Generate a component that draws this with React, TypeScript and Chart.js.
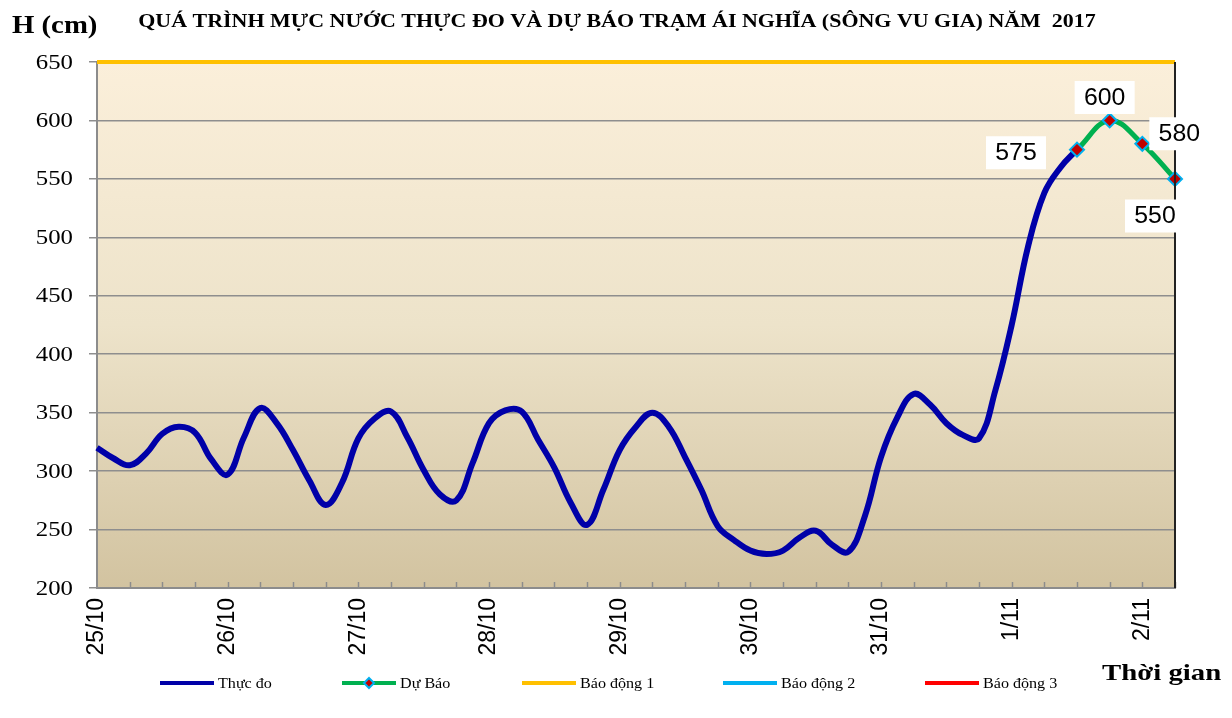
import React, { useEffect, useRef } from "react";
import { Chart, registerables } from "chart.js";

Chart.register(...registerables);

// 3-hourly time steps from 25/10 00h to 2/11 06h
const DAYS = ["25/10", "26/10", "27/10", "28/10", "29/10", "30/10", "31/10", "1/11", "2/11"];
const STEPS_PER_DAY = 8;
const TOTAL_STEPS = 67;

const categories: string[] = Array.from({ length: TOTAL_STEPS }, (_, i) =>
  i % STEPS_PER_DAY === 0 ? DAYS[i / STEPS_PER_DAY] : ""
);

// Thực đo (observed), 3-hourly
const observed: (number | null)[] = [
  320, 311, 305, 315, 332, 338, 333, 310,
  297, 329, 354, 341, 318, 292, 271, 290,
  328, 345, 351, 329, 301, 280, 275, 307,
  341, 352, 351, 327, 303, 273, 254, 284,
  318, 338, 350, 338, 312, 284, 253, 241,
  232, 229, 232, 243, 249, 237, 231, 261,
  312, 346, 366, 357, 341, 331, 328, 369,
  425, 492, 538, 560, 575,
  null, null, null, null, null, null,
];

// Dự báo (forecast), every 6 hours
const forecast: (number | null)[] = [
  ...Array(60).fill(null),
  575, null, 600, null, 580, null, 550,
];

const ALARM1 = 650;
const ALARM2 = 800;
const ALARM3 = 900;

const Y_MIN = 200;
const Y_MAX = 650;
const Y_STEP = 50;

const TITLE = "QUÁ TRÌNH MỰC NƯỚC THỰC ĐO VÀ DỰ BÁO TRẠM ÁI NGHĨA (SÔNG VU GIA) NĂM  2017";
const Y_TITLE = "H (cm)";
const X_TITLE = "Thời gian";

const LEGEND = [
  { text: "Thực đo", color: "#0000A8", marker: false, x: 160 },
  { text: "Dự Báo", color: "#00B050", marker: true, x: 342 },
  { text: "Báo động 1", color: "#FFC000", marker: false, x: 522 },
  { text: "Báo động 2", color: "#00B0F0", marker: false, x: 723 },
  { text: "Báo động 3", color: "#FF0000", marker: false, x: 925 },
];

// label offsets for forecast values (dx, dy from point)
const LABEL_OFFSETS: Record<number, [number, number]> = {
  60: [-61, 3],
  62: [-5, -23],
  64: [37, -10],
  66: [-20, 37],
};

const SERIF = '"Liberation Serif", "Times New Roman", serif';
const SANS = '"Liberation Sans", Arial, sans-serif';

function stretchText(ctx: any, text: string, x: number, y: number, sx: number, align: string) {
  ctx.save();
  ctx.translate(x, y);
  ctx.scale(sx, 1);
  ctx.textAlign = align;
  ctx.fillText(text, 0, 0);
  ctx.restore();
}

const decorPlugin = {
  id: "decor",
  beforeDraw(chart: any) {
    const { ctx, chartArea } = chart;
    const { left, right, top, bottom } = chartArea;
    ctx.save();
    ctx.fillStyle = "#ffffff";
    ctx.fillRect(0, 0, chart.width, chart.height);
    const g = ctx.createLinearGradient(0, top, 0, bottom);
    g.addColorStop(0, "#FBEFDA");
    g.addColorStop(0.5, "#EDE3CA");
    g.addColorStop(1, "#D2C3A0");
    ctx.fillStyle = g;
    ctx.fillRect(left, top, right - left, bottom - top);
    ctx.restore();
  },
  afterDraw(chart: any) {
    const { ctx, chartArea } = chart;
    const { right, top, bottom } = chartArea;
    const xs = chart.scales.x;
    const ys = chart.scales.y;
    ctx.save();
    // inner ticks on x axis every 6 hours
    ctx.strokeStyle = "#8c8c8c";
    ctx.lineWidth = 1.5;
    for (let i = 2; i < TOTAL_STEPS; i += 2) {
      const px = Math.round(xs.getPixelForValue(i)) + 0.5;
      ctx.beginPath();
      ctx.moveTo(px, bottom);
      ctx.lineTo(px, bottom - 6);
      ctx.stroke();
    }
    // right border
    ctx.strokeStyle = "#222222";
    ctx.lineWidth = 2;
    ctx.beginPath();
    ctx.moveTo(right, top);
    ctx.lineTo(right, bottom);
    ctx.stroke();

    // y tick labels (slightly wide serif)
    ctx.fillStyle = "#000";
    ctx.font = `21px ${SERIF}`;
    ctx.textBaseline = "middle";
    ys.ticks.forEach((t: any) => {
      stretchText(ctx, String(t.value), 73, ys.getPixelForValue(t.value) + 1, 1.18, "right");
    });

    // titles
    ctx.textBaseline = "alphabetic";
    ctx.font = `bold 18px ${SERIF}`;
    stretchText(ctx, TITLE, 617, 27, 1.22, "center");
    ctx.font = `bold 25px ${SERIF}`;
    stretchText(ctx, Y_TITLE, 12, 33, 1.15, "left");
    ctx.font = `bold 24px ${SERIF}`;
    stretchText(ctx, X_TITLE, 1102, 680, 1.2, "left");

    // legend
    const ly = 683;
    ctx.font = `14px ${SERIF}`;
    ctx.textBaseline = "middle";
    LEGEND.forEach((it) => {
      ctx.strokeStyle = it.color;
      ctx.lineWidth = 4;
      ctx.beginPath();
      ctx.moveTo(it.x, ly);
      ctx.lineTo(it.x + 54, ly);
      ctx.stroke();
      if (it.marker) {
        const mx = it.x + 27;
        ctx.fillStyle = "#C00000";
        ctx.strokeStyle = "#00B0F0";
        ctx.lineWidth = 2;
        ctx.beginPath();
        ctx.moveTo(mx, ly - 5);
        ctx.lineTo(mx + 5, ly);
        ctx.lineTo(mx, ly + 5);
        ctx.lineTo(mx - 5, ly);
        ctx.closePath();
        ctx.fill();
        ctx.stroke();
      }
      ctx.fillStyle = "#000";
      stretchText(ctx, it.text, it.x + 58, ly + 1, 1.15, "left");
    });
    ctx.restore();

    // forecast value labels in white boxes
    const meta = chart.getDatasetMeta(1);
    const boxes: { cx: number; cy: number; txt: string }[] = [];
    meta.data.forEach((pt: any, i: number) => {
      const v = forecast[i];
      if (v == null || pt == null) return;
      const off = LABEL_OFFSETS[i] || [0, -25];
      boxes.push({ cx: pt.x + off[0], cy: pt.y + off[1], txt: String(v) });
    });
    ctx.save();
    ctx.font = `23px ${SANS}`;
    boxes.forEach((b) => {
      const w = 60;
      const h = 33;
      ctx.fillStyle = "#ffffff";
      ctx.beginPath();
      ctx.rect(b.cx - w / 2, b.cy - h / 2, w, h);
      ctx.fill();
    });
    ctx.fillStyle = "#000000";
    ctx.textBaseline = "middle";
    boxes.forEach((b) => {
      stretchText(ctx, b.txt, b.cx, b.cy + 1, 1.08, "center");
    });
    ctx.restore();
  },
};

export default function App() {
  const ref = useRef<HTMLCanvasElement | null>(null);
  useEffect(() => {
    if (!ref.current) return;
    const chart = new Chart(ref.current, {
      type: "line",
      data: {
        labels: categories,
        datasets: [
          {
            label: "Thực đo",
            data: observed,
            borderColor: "#0000A8",
            borderWidth: 6,
            pointRadius: 0,
            tension: 0.4,
            order: 2,
          },
          {
            label: "Dự Báo",
            data: forecast,
            borderColor: "#00B050",
            borderWidth: 5,
            spanGaps: true,
            tension: 0.4,
            pointStyle: "rectRot",
            pointRadius: 7,
            pointBackgroundColor: "#C00000",
            pointBorderColor: "#00B0F0",
            pointBorderWidth: 2,
            order: 1,
          },
          {
            label: "Báo động 1",
            data: categories.map(() => ALARM1),
            borderColor: "#FFC000",
            borderWidth: 4,
            pointRadius: 0,
            clip: false,
            order: 3,
          },
          {
            label: "Báo động 2",
            data: categories.map(() => ALARM2),
            borderColor: "#00B0F0",
            borderWidth: 4,
            pointRadius: 0,
            order: 4,
          },
          {
            label: "Báo động 3",
            data: categories.map(() => ALARM3),
            borderColor: "#FF0000",
            borderWidth: 4,
            pointRadius: 0,
            order: 5,
          },
        ],
      },
      options: {
        responsive: false,
        animation: false,
        layout: { padding: { top: 62, right: 57, left: 0, bottom: 0 } },
        plugins: {
          legend: { display: false },
          title: { display: false },
          tooltip: { enabled: false },
        },
        scales: {
          x: {
            type: "category",
            offset: false,
            afterFit: (s: any) => {
              s.height = 130;
            },
            grid: { display: true, drawOnChartArea: false, drawTicks: false, color: "rgba(0,0,0,0)" },
            border: { display: true, color: "#8c8c8c", width: 2 },
            ticks: {
              autoSkip: false,
              minRotation: 90,
              maxRotation: 90,
              padding: 10,
              color: "#000",
              font: { family: SANS, size: 23 },
            },
          },
          y: {
            min: Y_MIN,
            max: Y_MAX,
            afterFit: (s: any) => {
              s.width = 97;
            },
            grid: { color: "#8e8e8e", lineWidth: 1.5, tickLength: 8 },
            border: { display: true, color: "#8c8c8c", width: 2 },
            ticks: {
              stepSize: Y_STEP,
              padding: 16,
              color: "rgba(0,0,0,0)",
              font: { family: SERIF, size: 21 },
            },
          },
        },
      },
      plugins: [decorPlugin],
    });
    return () => chart.destroy();
  }, []);
  return (
    <div style={{ position: "fixed", left: 0, top: 0, width: 1232, height: 718, background: "#fff" }}>
      <canvas ref={ref} width={1232} height={718} style={{ display: "block", width: 1232, height: 718 }} />
    </div>
  );
}
